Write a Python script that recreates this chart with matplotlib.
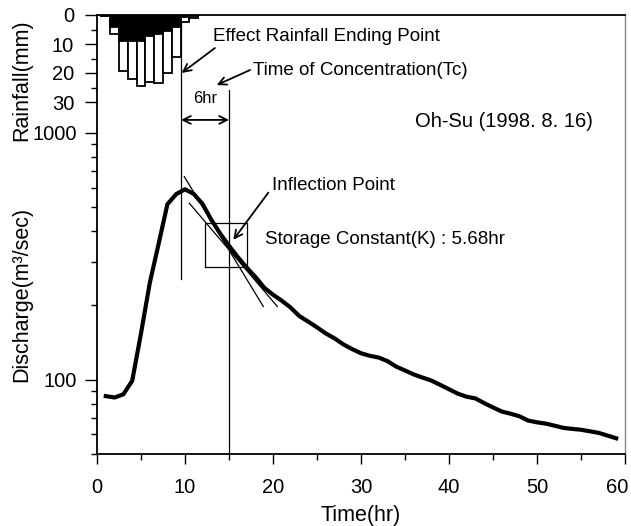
import numpy as np
import matplotlib
matplotlib.use("Agg")
import matplotlib.pyplot as plt
import matplotlib.transforms as mtransforms
from matplotlib import font_manager
from matplotlib.ticker import FixedLocator, NullFormatter, FixedFormatter

# ---------------- data ----------------
hours_rain = [1, 2, 3, 4, 5, 6, 7, 8, 9, 10, 11]
rain_total = [0.5, 6.6, 19.3, 22.0, 24.5, 23.0, 23.3, 19.9, 14.6, 2.3, 1.1]
rain_effective = [0.5, 4.0, 9.0, 9.0, 9.0, 7.2, 6.6, 5.4, 4.0, 0.8, 0.4]

hours_q = list(range(1, 60))
discharge = [85.8, 84.7, 87.3, 99, 154, 247, 355, 514, 565, 591,
             566, 515, 444, 391, 349, 314, 285, 261, 236, 221,
             209, 196, 181, 172, 163, 154, 147, 139, 133, 128,
             125, 123, 119, 113, 109, 105, 102, 99.2, 95.3, 91.5,
             87.8, 85.3, 84.0, 80.4, 77.2, 74.3, 72.8, 71.1, 68.3, 67.2,
             66.4, 65.1, 63.8, 63.2, 62.7, 61.8, 60.9, 59.4, 57.9]

effective_end_time = 9.55
effective_end_line_q = [256, 3000]
tc_time = 15.0
tc_line_q = [50, 1493]

tangent_a_t = [9.92, 18.9]
tangent_a_q = [665, 198]
tangent_b_t = [10.49, 20.49]
tangent_b_q = [519, 198]

box_t = [12.25, 17.1]
box_q = [287, 433]

x_ticks = [0, 10, 20, 30, 40, 50, 60]
x_tick_labels = ["0", "10", "20", "30", "40", "50", "60"]
q_ticks = [100, 1000]
q_tick_labels = ["100", "1000"]
q_minor = [50, 60, 70, 80, 90, 200, 300, 400, 500, 600, 700, 800, 900]
rain_ticks = [0, 10, 20, 30]
rain_tick_labels = ["0", "10", "20", "30"]
rain_minor = [5, 15, 25]

# ---------------- style ----------------
names = {f.name for f in font_manager.fontManager.ttflist}
fam = "Liberation Sans Narrow" if "Liberation Sans Narrow" in names else "Liberation Sans"
plt.rcParams["font.family"] = [fam, "DejaVu Sans"]

W, H = 631, 526
fig = plt.figure(figsize=(W / 100, H / 100), dpi=100)
L, R, T, B = 97, 625, 15, 454
pos = [L / W, (H - B) / H, (R - L) / W, (B - T) / H]

ax = fig.add_axes(pos)
ax.set_yscale("log")
ax.set_xlim(0, 60)
ax.set_ylim(50, 3005)

fs_tick = 14.5
# curve
ax.plot(hours_q, discharge, color="black", lw=3.0, solid_joinstyle="round", zorder=5)

# vertical lines
ax.plot([effective_end_time, effective_end_time], effective_end_line_q, color="black", lw=0.9)
ax.plot([tc_time, tc_time], tc_line_q, color="black", lw=0.9)

# tangent lines
ax.plot(tangent_a_t, tangent_a_q, color="black", lw=0.9)
ax.plot(tangent_b_t, tangent_b_q, color="black", lw=0.9)

# box
ax.plot([box_t[0], box_t[1], box_t[1], box_t[0], box_t[0]],
        [box_q[0], box_q[0], box_q[1], box_q[1], box_q[0]], color="black", lw=0.9)

# ticks
ax.xaxis.set_major_locator(FixedLocator(x_ticks))
ax.xaxis.set_major_formatter(FixedFormatter(x_tick_labels))
ax.xaxis.set_minor_locator(FixedLocator([5, 15, 25, 35, 45, 55]))
ax.yaxis.set_major_locator(FixedLocator(q_ticks))
ax.yaxis.set_major_formatter(FixedFormatter(q_tick_labels))
ax.yaxis.set_minor_locator(FixedLocator(q_minor))
ax.yaxis.set_minor_formatter(NullFormatter())
ax.tick_params(axis="x", which="major", direction="out", length=7.5, width=1.0, pad=10, labelsize=fs_tick, colors="black")
ax.tick_params(axis="x", which="minor", direction="out", length=4.5, width=1.0)
ax.tick_params(axis="y", which="major", direction="out", length=8.5, width=1.0, pad=6, labelsize=fs_tick)
ax.tick_params(axis="y", which="minor", direction="out", length=4.5, width=1.0)

for s in ["left", "bottom", "top"]:
    ax.spines[s].set_color("black")
    ax.spines[s].set_linewidth(1.3)
ax.spines["right"].set_color("#888888")
ax.spines["right"].set_linewidth(1.0)

ax.set_xlabel("Time(hr)", fontsize=15.5)
ax.xaxis.set_label_coords(0.5, (B - 515) / (B - T))
ax.xaxis.label.set_verticalalignment("center")
ax.set_ylabel("Discharge(m\u00b3/sec)", fontsize=15.5)
ax.yaxis.set_label_coords((22 - L) / (R - L), (B - 294) / (B - T))
ax.yaxis.label.set_verticalalignment("center")

# keep last x tick label inside the figure
fig.canvas.draw()
last = ax.get_xticklabels()[-1]
last.set_transform(last.get_transform() + mtransforms.ScaledTranslation(-8 / 100, 0, fig.dpi_scale_trans))

# rainfall axes
axr = fig.add_axes(pos, sharex=ax)
axr.patch.set_visible(False)
for s in axr.spines.values():
    s.set_visible(False)
axr.set_ylim((B - T) / 2.9, 0)
axr.bar(hours_rain, rain_total, width=1.0, color="white", edgecolor="black", linewidth=1.3, zorder=2)
axr.bar(hours_rain, rain_effective, width=1.0, color="black", edgecolor="black", linewidth=1.3, zorder=3)
axr.yaxis.set_major_locator(FixedLocator(rain_ticks))
axr.yaxis.set_major_formatter(FixedFormatter(rain_tick_labels))
axr.yaxis.set_minor_locator(FixedLocator(rain_minor))
axr.tick_params(axis="y", which="major", direction="out", length=8.5, width=1.0, pad=8, labelsize=fs_tick)
axr.tick_params(axis="y", which="minor", direction="out", length=4.5, width=1.0)
axr.tick_params(axis="x", which="both", bottom=False, labelbottom=False)
axr.set_ylabel("Rainfall(mm)", fontsize=15.5)
axr.yaxis.set_label_coords((22 - L) / (R - L), (B - 80) / (B - T))
axr.yaxis.label.set_verticalalignment("center")

# annotations
fs_ann = 13.5
arrow_kw = dict(arrowstyle="->", lw=1.3, color="black", shrinkA=0, shrinkB=0, mutation_scale=14)
ax.text(13.2, 2449, "Effect Rainfall Ending Point", fontsize=fs_ann, ha="left", va="center")
ax.annotate("", xy=(9.62, 1750), xytext=(13.4, 2208), arrowprops=arrow_kw)
ax.text(17.7, 1790, "Time of Concentration(Tc)", fontsize=fs_ann, ha="left", va="center")
ax.annotate("", xy=(13.6, 1563), xytext=(17.4, 1799), arrowprops=arrow_kw)
ax.text(12.27, 1373, "6hr", fontsize=12, ha="center", va="center")
ax.annotate("", xy=(effective_end_time, 1129), xytext=(tc_time, 1129),
            arrowprops=dict(arrowstyle="<->", lw=1.3, color="black", shrinkA=0, shrinkB=0, mutation_scale=14))
ax.text(46.25, 1108, "Oh-Su (1998. 8. 16)", fontsize=14.5, ha="center", va="center")
ax.text(19.9, 615, "Inflection Point", fontsize=fs_ann, ha="left", va="center")
ax.annotate("", xy=(15.49, 369), xytext=(19.47, 573), arrowprops=arrow_kw)
ax.text(19.1, 369, "Storage Constant(K) : 5.68hr", fontsize=fs_ann, ha="left", va="center")

fig.savefig("out.png", dpi=100)
